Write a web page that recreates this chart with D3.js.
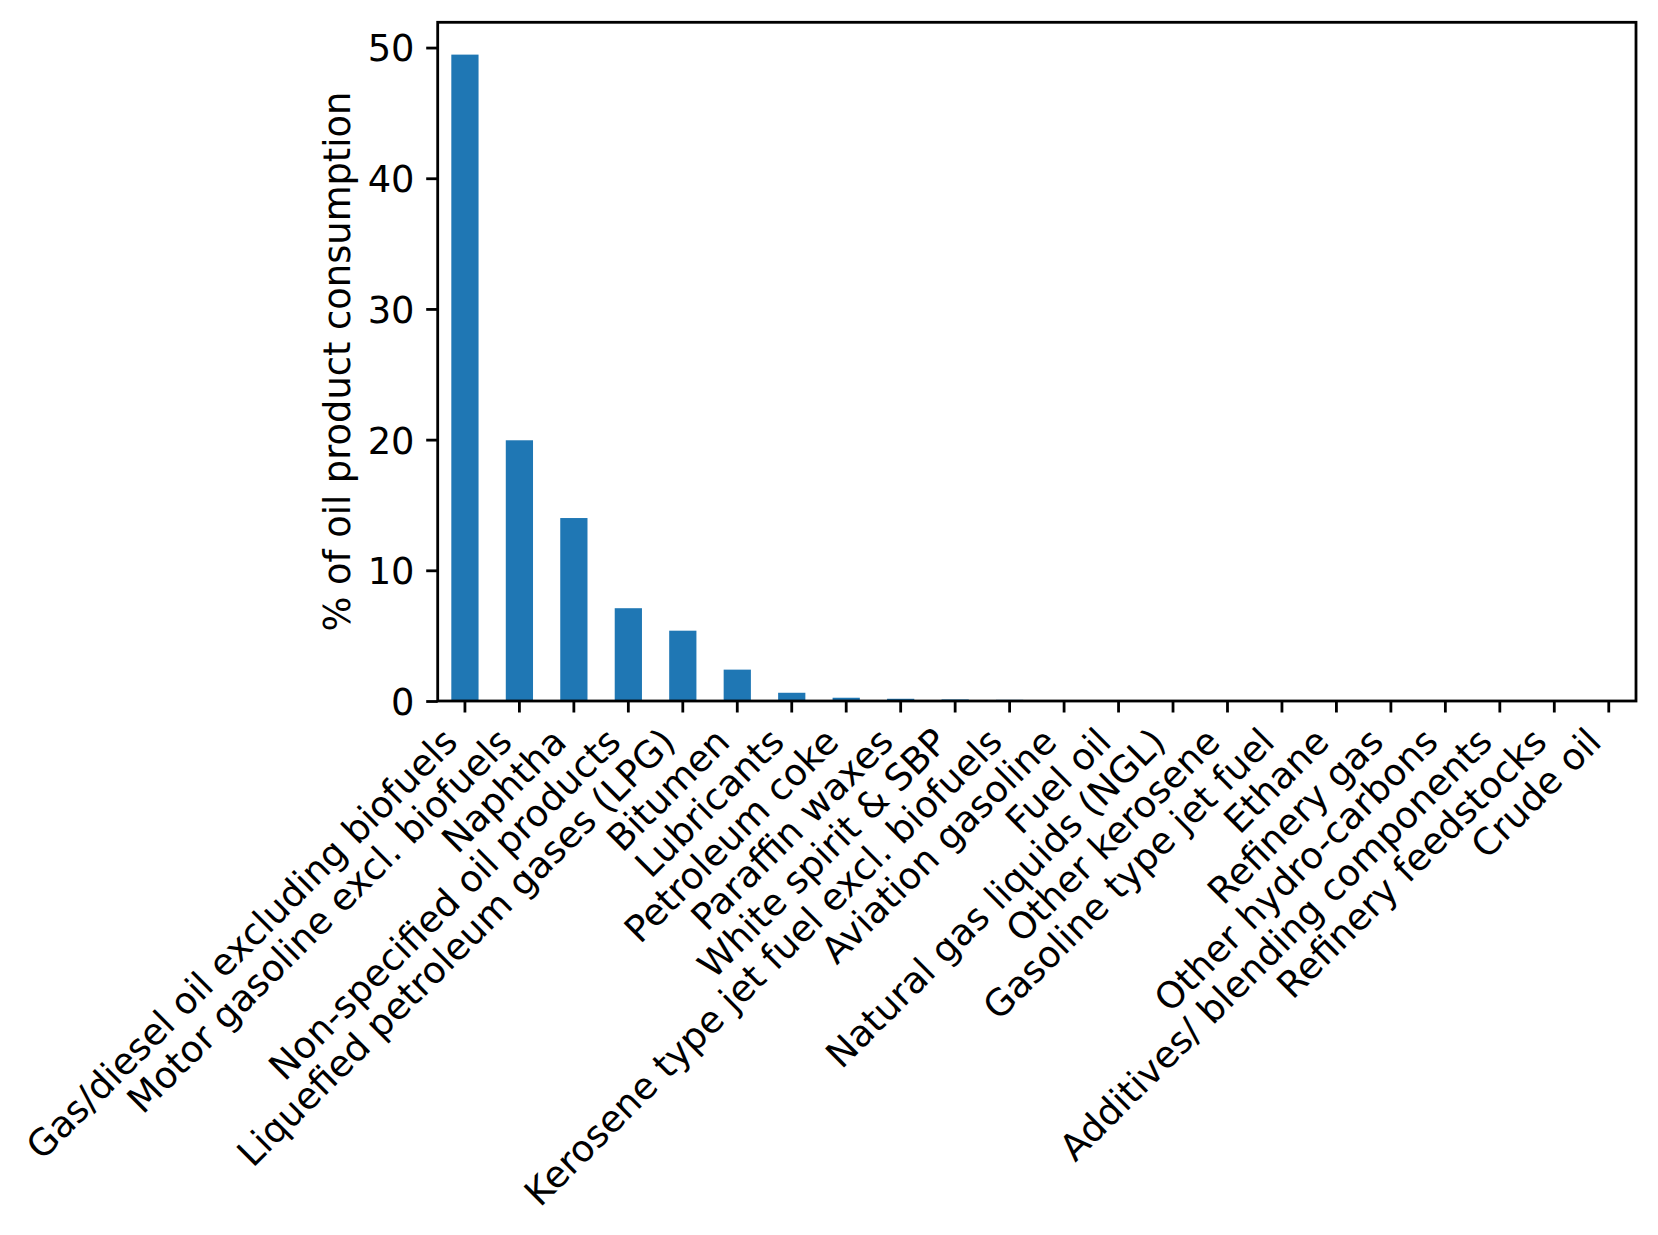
<!DOCTYPE html>
<html>
<head>
<meta charset="utf-8">
<script src="https://cdn.jsdelivr.net/npm/d3@7"></script>
<style>
  html, body { margin: 0; padding: 0; background: #fff; }
  svg { display: block; }
</style>
</head>
<body>
<svg id="chart" width="1658" height="1235"></svg>
<script>
const categories = [
  "Gas/diesel oil excluding biofuels",
  "Motor gasoline excl. biofuels",
  "Naphtha",
  "Non-specified oil products",
  "Liquefied petroleum gases (LPG)",
  "Bitumen",
  "Lubricants",
  "Petroleum coke",
  "Paraffin waxes",
  "White spirit & SBP",
  "Kerosene type jet fuel excl. biofuels",
  "Aviation gasoline",
  "Fuel oil",
  "Natural gas liquids (NGL)",
  "Other kerosene",
  "Gasoline type jet fuel",
  "Ethane",
  "Refinery gas",
  "Other hydro-carbons",
  "Additives/ blending components",
  "Refinery feedstocks",
  "Crude oil"
];
const values = [49.46, 19.95, 14.0, 7.1, 5.38, 2.4, 0.63, 0.25, 0.17, 0.12, 0.09, 0.02, 0.01, 0.005, 0.003, 0.002, 0.001, 0.001, 0, 0, 0, 0];
const yTicks = [0, 10, 20, 30, 40, 50];
const yLabel = "% of oil product consumption";

(function () {
const W = 1658, H = 1235;
const mLeft = 437.7, mRight = 1636, mTop = 22.3, mBottom = 701;
const fontSize = 36.8;
const tickLen = 11.5, pad = 11.7, lw = 2.8;
const font = "DejaVu Sans";

const svg = d3.select("#chart");
svg.append("rect").attr("width", W).attr("height", H).attr("fill", "#fff");

const x = d3.scaleBand().domain(categories).range([mLeft, mRight])
  .paddingInner(0.5).paddingOuter(0.25);
const y = d3.scaleLinear().domain([0, d3.max(values) * 1.05]).range([mBottom, mTop]);

const data = categories.map((c, i) => ({c, v: values[i]}));

svg.append("g").selectAll("rect").data(data).join("rect")
  .attr("x", d => x(d.c))
  .attr("width", x.bandwidth())
  .attr("y", d => y(d.v))
  .attr("height", d => y(0) - y(d.v))
  .attr("fill", "#1f77b4");

// Y axis
const yAxis = d3.axisLeft(y).tickValues(yTicks).tickSize(tickLen).tickPadding(pad).tickFormat(d3.format("d"));
const gy = svg.append("g").attr("transform", `translate(${mLeft},0)`).call(yAxis);
gy.select(".domain").remove();
gy.selectAll(".tick line").attr("stroke", "#000").attr("stroke-width", lw);
gy.selectAll(".tick text")
  .attr("font-family", font).attr("font-size", fontSize).attr("fill", "#000")
  .attr("dy", "0.364em");

// X axis
const xAxis = d3.axisBottom(x).tickSize(tickLen).tickFormat("");
const gx = svg.append("g").attr("transform", `translate(0,${mBottom})`).call(xAxis);
gx.select(".domain").remove();
gx.selectAll(".tick line").attr("stroke", "#000").attr("stroke-width", lw);

// rotated x tick labels (ha=right, va=top, 45 deg)
const asc = 0.76 * fontSize, desc = 0.208 * fontSize;
const y0 = mBottom + tickLen + pad;
const c45 = Math.SQRT1_2;
svg.append("g").selectAll("text").data(categories).join("text")
  .attr("transform", d => {
    const tx = x(d) + x.bandwidth() / 2 - c45 * desc;
    const ty = y0 + c45 * asc;
    return `translate(${tx},${ty}) rotate(-45)`;
  })
  .attr("text-anchor", "end")
  .attr("font-family", font).attr("font-size", fontSize).attr("fill", "#000")
  .text(d => d);

// frame
svg.append("rect")
  .attr("x", mLeft).attr("y", mTop)
  .attr("width", mRight - mLeft).attr("height", mBottom - mTop)
  .attr("fill", "none").attr("stroke", "#000").attr("stroke-width", lw);

// Y label
svg.append("text")
  .attr("transform", `translate(350,${(mTop + mBottom) / 2}) rotate(-90)`)
  .attr("text-anchor", "middle")
  .attr("font-family", font).attr("font-size", fontSize).attr("fill", "#000")
  .text(yLabel);
})();
</script>
</body>
</html>
